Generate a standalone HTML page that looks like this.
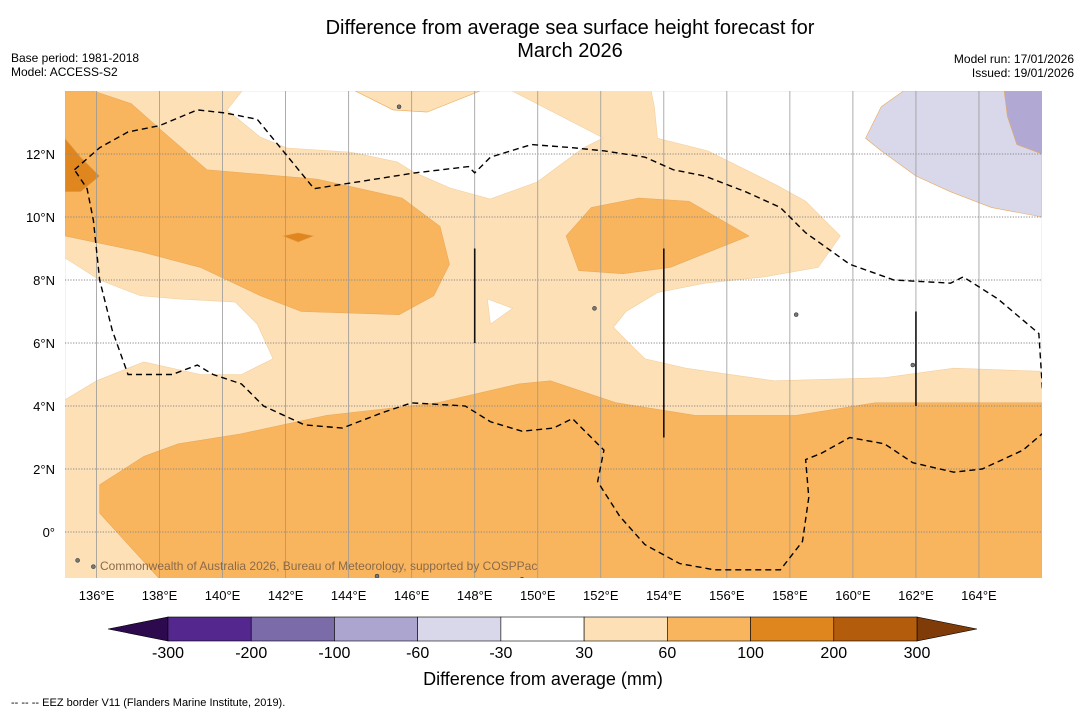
<!DOCTYPE html>
<html><head><meta charset="utf-8">
<style>
body{margin:0;background:#fff;font-family:"Liberation Sans",sans-serif;}
#wrap{position:relative;width:1085px;height:713px;overflow:hidden;background:#fff;}
</style></head>
<body>
<div id="wrap">
<svg id="svg" width="1085" height="713" xmlns="http://www.w3.org/2000/svg">
  <text x="570" y="34" font-size="20" text-anchor="middle">Difference from average sea surface height forecast for</text>
  <text x="570" y="57" font-size="20" text-anchor="middle">March 2026</text>
  <text x="11" y="62" font-size="12">Base period: 1981-2018</text>
  <text x="11" y="76" font-size="12">Model: ACCESS-S2</text>
  <text x="1074" y="63" font-size="12" text-anchor="end">Model run: 17/01/2026</text>
  <text x="1074" y="77" font-size="12" text-anchor="end">Issued: 19/01/2026</text>
  <defs><clipPath id="mapclip"><rect x="65" y="91" width="977" height="487"/></clipPath></defs>
  <g id="map" clip-path="url(#mapclip)"></g>
  <g id="axes"></g>
  <g id="cbar"></g>
  <text x="543" y="685" font-size="18" text-anchor="middle">Difference from average (mm)</text>
  <text x="11" y="706" font-size="11">--  --  -- EEZ border V11 (Flanders Marine Institute, 2019).</text>
</svg>
</div>
<script>
// ---- data ----
const lonTicks=[136,138,140,142,144,146,148,150,152,154,156,158,160,162,164];
const latTicks=[0,2,4,6,8,10,12];
const cbLevels=[-300,-200,-100,-60,-30,30,60,100,200,300];
const cbColors=["#54278f","#7b6ba9","#aba5cf","#d8d8ea","#ffffff","#fde0b6","#f9b55e","#e0861f","#b35c0c"];
const cbLow="#2d0a4e", cbHigh="#7f3b08";
// contour polygons in [lon,lat]
const regionFills=[
 {name:"white-north",color:"#ffffff",pts:[[140.62,14],[149.19,14],[152.08,12.51],[151.44,12.19],[149.98,11.11],[148.49,10.57],[147.22,10.92],[146.05,11.43],[145.54,11.75],[144.05,12.06],[142.05,12.19],[141.19,12.54],[140.14,13.4]]},
 {name:"light-lobe-north",color:"#fde0b6",pts:[[144.21,14],[148.17,14],[146.49,13.33],[145.41,13.4]]},
 {name:"white-west",color:"#ffffff",pts:[[135,8.7],[136.1,8],[137.4,7.5],[138.6,7.4],[140.4,7.3],[141.1,6.6],[141.6,5.5],[140.6,5],[139.3,5],[137.5,5.4],[136,4.8],[135,4.2]]},
 {name:"white-east",color:"#ffffff",pts:[[153.6,14],[153.7,13.5],[153.8,12.5],[155.4,12.1],[156.4,11.6],[157.6,11],[158.5,10.5],[159.1,9.9],[159.6,9.4],[158.9,8.4],[157.2,8.1],[155.3,7.9],[153.8,7.6],[152.8,7],[152.4,6.5],[153.4,5.5],[154.7,5.2],[157.5,4.8],[161,4.9],[163.2,5.2],[166,5.1],[166,14]]},
 {name:"white-islet",color:"#ffffff",pts:[[148.4,7.4],[149.2,7.1],[148.5,6.6]]},
 {name:"lavender",color:"#d8d8ea",pts:[[161.6,14],[160.9,13.5],[160.4,12.5],[160.9,12.1],[162,11.3],[163.1,10.8],[164.4,10.3],[166,10],[166,14]]},
 {name:"lavender-dark",color:"#b1a9d3",pts:[[164.8,14],[166,14],[166,12],[165.2,12.3],[164.9,13.2]]},
 {name:"orange-northwest",color:"#f9b55e",pts:[[135,14],[135.9,14],[137.1,13.6],[138,12.8],[139.5,11.5],[143,11.2],[145.7,10.6],[146.9,9.7],[147.2,8.5],[146.7,7.5],[145.6,6.9],[142.5,7],[141.2,7.5],[139.3,8.4],[137.4,8.9],[135,9.4]]},
 {name:"orange-central",color:"#f9b55e",pts:[[150.9,9.4],[151.7,10.3],[153.2,10.6],[154.8,10.5],[156.7,9.4],[154.2,8.4],[152.7,8.2],[151.3,8.3]]},
 {name:"orange-south",color:"#f9b55e",pts:[[136.1,1.5],[137.5,2.4],[138.6,2.8],[140.5,3.1],[143.3,3.7],[146.8,4.1],[149.4,4.7],[150.4,4.8],[152.5,4.1],[155,3.7],[158.2,3.7],[160.7,4.1],[166,4.1],[166,-1.6],[138.1,-1.6],[136.1,0.6]]},
 {name:"dark-west",color:"#e0861f",pts:[[135,12.5],[135.5,11.9],[136.1,11.3],[135.5,10.8],[135,10.8]]},
 {name:"dark-blob",color:"#e0861f",pts:[[141.9,9.4],[142.4,9.5],[142.9,9.4],[142.4,9.2]]}
];
const eezLine=[[135.3,11.5],[136.1,12.2],[137,12.7],[138,12.9],[139.2,13.4],[140.1,13.3],[141.1,13.1],[142,12],[142.9,10.9],[144.2,11.1],[146.1,11.4],[147.8,11.6],[148,11.4],[148.5,11.9],[149.8,12.3],[151.1,12.2],[152.1,12.1],[153.4,11.9],[154.3,11.5],[155.3,11.3],[156.6,10.8],[157.7,10.3],[158.5,9.5],[159.9,8.5],[161.3,8],[163.1,7.9],[163.5,8.1],[164.6,7.4],[165.9,6.3],[166.1,3.2],[165.4,2.6],[164.1,2],[163.2,1.9],[161.9,2.2],[161,2.8],[159.9,3],[159,2.5],[158.5,2.3],[158.6,1.1],[158.4,-0.3],[157.7,-1.2],[155.6,-1.2],[154.5,-1],[153.4,-0.4],[152.6,0.5],[151.9,1.6],[152.1,2.6],[151.6,3.1],[151.1,3.6],[150.5,3.3],[149.5,3.2],[148.5,3.5],[147.7,4],[146,4.1],[145.1,3.8],[143.8,3.3],[142.6,3.4],[141.3,4],[140.6,4.7],[139.7,5],[139.2,5.3],[138.4,5],[137,5],[136.5,6.4],[136.1,8],[135.9,9.9],[135.7,10.9],[135.3,11.5]];
const solidLines=[[[148,9],[148,6]],[[154,9],[154,3]],[[162,7],[162,4]]];
const islands=[[135.4,-0.9],[135.9,-1.1],[145.6,13.5],[158.2,6.9],[151.8,7.1],[161.9,5.3],[149.5,-1.5],[144.9,-1.4]];

// ---- axis functions ----
const X0=65,X1=1042,Y0=91,Y1=578;
const LON0=135,LON1=166,LAT0=14,LAT1=-1.46;
const px=lon=>X0+(lon-LON0)/(LON1-LON0)*(X1-X0);
const py=lat=>Y0+(lat-LAT0)/(LAT1-LAT0)*(Y1-Y0);
const NS="http://www.w3.org/2000/svg";
function mk(tag,attrs,parent){const e=document.createElementNS(NS,tag);for(const k in attrs)e.setAttribute(k,attrs[k]);parent.appendChild(e);return e;}
const map=document.getElementById('map'),axes=document.getElementById('axes'),cb=document.getElementById('cbar');

let bg=mk('rect',{x:X0,y:Y0,width:X1-X0,height:Y1-Y0,fill:"#fde0b6"},map);


regionFills.forEach(r=>{
  const p=mk('polygon',{points:r.pts.map(q=>px(q[0])+","+py(q[1])).join(" "),fill:r.color,stroke:r.color==="#ffffff"?"#f3cfa0":"#e9a95a","stroke-width":0.6},map);
  
  
});
islands.forEach(q=>{
  const c=mk('circle',{cx:px(q[0]),cy:py(q[1]),r:2,fill:"#777",stroke:"#222","stroke-width":0.5},map);
  
  
});
// grid
lonTicks.forEach(l=>{
  const g=mk('line',{x1:px(l),x2:px(l),y1:Y0,y2:Y1,stroke:"#999","stroke-width":0.8},map);
  
  
});
latTicks.forEach(l=>{
  const g=mk('line',{x1:X0,x2:X1,y1:py(l),y2:py(l),stroke:"#888","stroke-width":0.9,"stroke-dasharray":"1.2,1.5"},map);
  
  
});
const eez=mk('polyline',{points:eezLine.map(q=>px(q[0])+","+py(q[1])).join(" "),fill:"none",stroke:"#000","stroke-width":1.4,"stroke-dasharray":"6,4"},map);


solidLines.forEach(s=>{
  const l=mk('line',{x1:px(s[0][0]),y1:py(s[0][1]),x2:px(s[1][0]),y2:py(s[1][1]),stroke:"#111","stroke-width":1.6},map);
  
  
});
const cr=mk('text',{x:100,y:570,"font-size":12,fill:"#8a6a4a"},map);
cr.textContent="Commonwealth of Australia 2026, Bureau of Meteorology, supported by COSPPac";


// tick labels
lonTicks.forEach(l=>{
  const t=mk('text',{x:px(l),y:600,"font-size":13,"text-anchor":"middle"},axes);
  t.textContent=l+"°E";
  
  
});
latTicks.forEach(l=>{
  const t=mk('text',{x:55,y:py(l)+5,"font-size":13,"text-anchor":"end"},axes);
  t.textContent=l===0?"0°":l+"°N";
  
  
});
// colorbar
const CB0=168,CB1=917,CBY=617,CBH=24;
const w=(CB1-CB0)/cbColors.length;
const lt=mk('polygon',{points:`108,${CBY+CBH/2} ${CB0},${CBY} ${CB0},${CBY+CBH}`,fill:cbLow,stroke:"#000","stroke-width":0.6},cb);


const rt=mk('polygon',{points:`977,${CBY+CBH/2} ${CB1},${CBY} ${CB1},${CBY+CBH}`,fill:cbHigh,stroke:"#000","stroke-width":0.6},cb);


cbColors.forEach((c,i)=>{
  const r=mk('rect',{x:CB0+i*w,y:CBY,width:w,height:CBH,fill:c,stroke:"#000","stroke-width":0.6},cb);
  
  
});
cbLevels.forEach((v,i)=>{
  const t=mk('text',{x:CB0+i*w,y:658,"font-size":16,"text-anchor":"middle"},cb);
  t.textContent=v;
  
  
});
</script>
</body></html>
